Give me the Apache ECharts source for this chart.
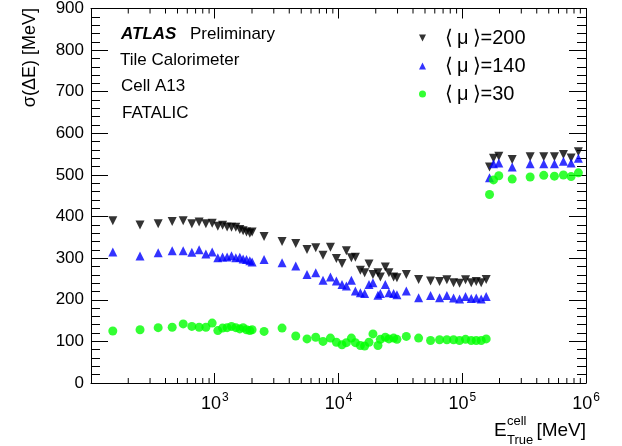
<!DOCTYPE html>
<html>
<head>
<meta charset="utf-8">
<script src="https://cdn.jsdelivr.net/npm/echarts@6/dist/echarts.min.js"></script>
<style>
  html, body { margin: 0; padding: 0; background: #fff; }
  #chart { width: 622px; height: 446px; }
</style>
</head>
<body>
<div id="chart"></div>
<script>
// true cell energy [MeV]
const energies = [
  150, 249, 349, 453, 556, 653, 748, 848, 953, 1059,
  1156, 1259, 1366, 1480, 1594, 1695, 1806, 1920, 2004, 2504,
  3499, 4514, 5568, 6546, 7497, 8603, 9617, 10670, 11580, 12710,
  13690, 15020, 16270, 17630, 18990, 20840, 21790, 23900, 25560, 27900,
  29660, 35320, 44390, 55460, 65590, 75110, 85080, 95100, 106300, 118200,
  129700, 142300, 156200, 166100, 178900, 197400, 253200, 353800, 455700, 555700,
  657000, 758000, 868000
]

// sigma(dE) [MeV] for each pile-up scenario
const sigmaMu200 = [
  390, 380, 383, 388, 390, 383, 387, 383, 384, 377,
  379, 375, 374, 374, 369, 366, 363, 360, 363, 352,
  340, 335, 321, 325, 307, 326, 299, 287, 318, 301,
  302, 271, 265, 286, 261, 265, 255, 279, 265, 255,
  253, 261, 249, 245, 244, 248, 241, 240, 248, 241,
  244, 241, 249, 519, 540, 545, 537, 544, 544, 544,
  549, 541, 556
]
const sigmaMu140 = [
  315, 305, 313, 318, 318, 314, 320, 310, 315, 301,
  303, 303, 306, 301, 302, 298, 297, 294, 291, 297,
  289, 281, 261, 265, 247, 255, 245, 237, 233, 247,
  221, 217, 215, 237, 241, 211, 215, 237, 217, 215,
  212, 221, 205, 210, 205, 210, 204, 202, 208, 203,
  204, 202, 208, 493, 527, 529, 519, 527, 527, 527,
  533, 529, 540
]
const sigmaMu30 = [
  125, 128, 133, 134, 142, 136, 134, 134, 144, 126,
  132, 133, 136, 133, 130, 133, 128, 126, 128, 124,
  132, 113, 106, 110, 100, 108, 98, 92, 97, 108,
  97, 90, 89, 98, 118, 90, 105, 110, 106, 108,
  105, 112, 108, 102, 104, 104, 104, 102, 105, 102,
  102, 102, 106, 453, 488, 498, 490, 495, 499, 497,
  500, 496, 505
]

const seriesNames = ['⟨\u2009μ\u2009⟩=200', '⟨\u2009μ\u2009⟩=140', '⟨\u2009μ\u2009⟩=30']

// small ticks between the decades of the log axis
const minorTicks = []
;[100, 1000, 10000, 100000].forEach(d => {
  for (let k = 2; k <= 9; k++) minorTicks.push(d * k)
})

const FONT = 'Liberation Sans, Arial, Helvetica, sans-serif'
const chart = echarts.init(document.getElementById('chart'))

const xAxisBase = {
  type: 'log',
  logBase: 10,
  min: 100,
  max: 1000000,
  splitNumber: 4,
  splitLine: { show: false },
  axisLine: { show: true, onZero: false, lineStyle: { color: '#000', width: 1 } },
  axisTick: { show: true, inside: true, length: 10, lineStyle: { color: '#000' } }
}

const yAxisBase = {
  type: 'value',
  min: 0,
  max: 900,
  interval: 100,
  splitLine: { show: false },
  axisLine: { show: true, onZero: false, lineStyle: { color: '#000', width: 1 } },
  axisTick: { show: true, inside: true, length: 17, lineStyle: { color: '#000' } },
  minorTick: { show: true, splitNumber: 5, length: 9, lineStyle: { color: '#000' } }
}

const option = {
  animation: false,
  backgroundColor: '#fff',
  grid: { left: 91, right: 36, top: 5, bottom: 63, containLabel: false },
  xAxis: [
    {
      ...xAxisBase,
      position: 'bottom',
      axisLabel: {
        show: true,
        showMinLabel: false,
        margin: 9,
        color: '#000',
        fontFamily: FONT,
        formatter: v => '{b|10}{s|' + Math.round(Math.log10(v)) + '}',
        rich: {
          b: { fontSize: 18, fontFamily: FONT, color: '#000' },
          s: { fontSize: 12, fontFamily: FONT, color: '#000', padding: [0, 0, 12, 1] }
        }
      }
    },
    { ...xAxisBase, position: 'top', axisLabel: { show: false } }
  ],
  yAxis: [
    {
      ...yAxisBase,
      position: 'left',
      axisLabel: { show: true, margin: 7, fontSize: 17, fontFamily: FONT, color: '#000' }
    },
    { ...yAxisBase, position: 'right', axisLabel: { show: false } }
  ],
  legend: {
    orient: 'vertical',
    left: 414,
    top: 23,
    itemWidth: 7,
    itemHeight: 7,
    itemGap: 8,
    data: [
      { name: seriesNames[0], icon: 'path://M0,0L10,0L5,10Z' },
      { name: seriesNames[1] },
      { name: seriesNames[2] }
    ],
    textStyle: { fontSize: 20, fontFamily: FONT, color: '#000', padding: [0, 0, 0, 14] }
  },
  graphic: [
    { type: 'text', x: 121, y: 34, style: { text: 'ATLAS', font: 'italic bold 17px ' + FONT, fill: '#000', verticalAlign: 'middle' } },
    { type: 'text', x: 190, y: 34, style: { text: 'Preliminary', font: '17px ' + FONT, fill: '#000', verticalAlign: 'middle' } },
    { type: 'text', x: 120, y: 60, style: { text: 'Tile Calorimeter', font: '17px ' + FONT, fill: '#000', verticalAlign: 'middle' } },
    { type: 'text', x: 121, y: 86, style: { text: 'Cell A13', font: '17px ' + FONT, fill: '#000', verticalAlign: 'middle' } },
    { type: 'text', x: 122, y: 113, style: { text: 'FATALIC', font: '17px ' + FONT, fill: '#000', verticalAlign: 'middle' } },
    // y axis title
    { type: 'text', x: 30, y: 8, rotation: Math.PI / 2, style: { text: 'σ(ΔE) [MeV]', font: '18px ' + FONT, fill: '#000', align: 'right', verticalAlign: 'middle' } },
    // x axis title
    { type: 'text', x: 494, y: 431, style: { text: 'E', font: '19px ' + FONT, fill: '#000', verticalAlign: 'middle' } },
    { type: 'text', x: 507, y: 421, style: { text: 'cell', font: '13px ' + FONT, fill: '#000', verticalAlign: 'middle' } },
    { type: 'text', x: 507, y: 440, style: { text: 'True', font: '13px ' + FONT, fill: '#000', verticalAlign: 'middle' } },
    { type: 'text', x: 586, y: 431, style: { text: '[MeV]', font: '19px ' + FONT, fill: '#000', align: 'right', verticalAlign: 'middle' } }
  ],
  series: [
    {
      name: seriesNames[0],
      type: 'scatter',
      symbol: 'triangle',
      symbolRotate: 180,
      symbolSize: 9,
      itemStyle: { color: '#000' },
      data: energies.map((e, i) => [e, sigmaMu200[i]])
    },
    {
      name: seriesNames[1],
      type: 'scatter',
      symbol: 'triangle',
      symbolSize: 9,
      itemStyle: { color: '#0000ff' },
      data: energies.map((e, i) => [e, sigmaMu140[i]])
    },
    {
      name: seriesNames[2],
      type: 'scatter',
      symbol: 'circle',
      symbolSize: 9,
      itemStyle: { color: '#00ff00' },
      data: energies.map((e, i) => [e, sigmaMu30[i]])
    },
    {
      // minor ticks of the log axis, bottom and top
      type: 'custom',
      silent: true,
      clip: false,
      z: 10,
      data: minorTicks.map(v => [v, 0]),
      renderItem: (params, api) => {
        const b = api.coord([api.value(0), 0])
        const t = api.coord([api.value(0), 900])
        return {
          type: 'group',
          children: [
            { type: 'line', shape: { x1: b[0], y1: b[1], x2: b[0], y2: b[1] - 5 }, style: { stroke: '#000', lineWidth: 1 } },
            { type: 'line', shape: { x1: t[0], y1: t[1], x2: t[0], y2: t[1] + 5 }, style: { stroke: '#000', lineWidth: 1 } }
          ]
        }
      }
    }
  ]
}

chart.setOption(option)
</script>
</body>
</html>
